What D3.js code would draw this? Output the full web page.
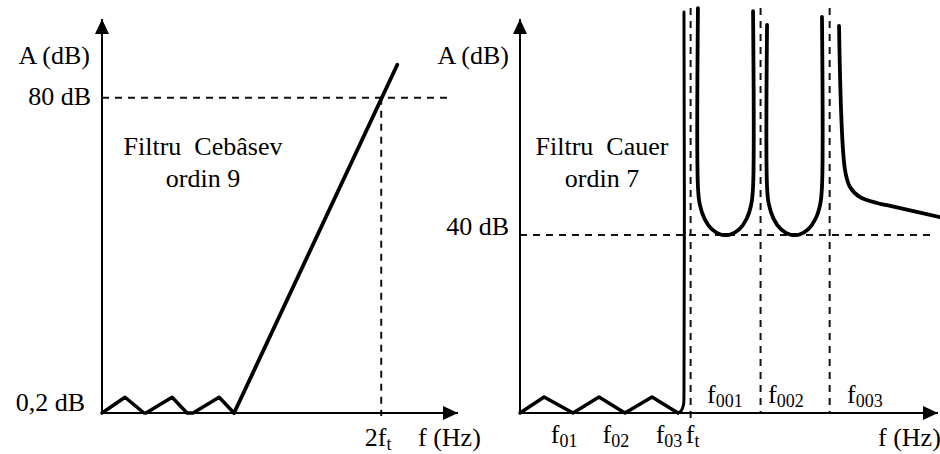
<!DOCTYPE html>
<html>
<head>
<meta charset="utf-8">
<script src="https://cdnjs.cloudflare.com/ajax/libs/d3/7.8.5/d3.min.js"></script>
<style>
body { margin: 0; background: #fff; }
svg text { font-family: "Liberation Serif", Tinos, "Times New Roman", "Nimbus Roman", "DejaVu Serif", serif; font-size: 26px; fill: #000; white-space: pre; }
</style>
</head>
<body>
<div id="chart"></div>
<script>
// values (schematic): x in multiples of f_t, y in dB
// left panel - Cebasev, order 9
var cebRipple = [[0, 0], [0.165, 4], [0.301, 0], [0.315, 0], [0.502, 4], [0.609, 0], [0.652, 0], [0.839, 4], [0.946, 0]]
var cebSlope = [[0.946, 0], [2.115, 88.4]]
var cebLevel = 80
var cebCross = 2

// right panel - Cauer, order 7
var cauerRipple = [[0, 0], [0.141, 3.6], [0.311, 0], [0.463, 3.6], [0.615, 0], [0.774, 3.6], [0.926, 0]]
var cauerRise = [[0.926, 0], [0.944, 0.45], [0.958, 1.8], [0.961, 3.4], [0.961, 90.1]]
var cauerLobe1 = [[1.043, 91], [1.043, 50.8], [1.053, 47.0], [1.081, 43.7], [1.124, 41.3], [1.176, 40.1], [1.205, 40],
    [1.233, 40.1], [1.286, 41.3], [1.329, 43.7], [1.356, 47.0], [1.366, 50.8], [1.366, 90.3]]
var cauerLobe2 = [[1.448, 87.2], [1.448, 50.8], [1.458, 47.0], [1.486, 43.7], [1.529, 41.3], [1.581, 40.1], [1.610, 40],
    [1.638, 40.1], [1.690, 41.3], [1.733, 43.7], [1.760, 47.0], [1.770, 50.8], [1.770, 89.0]]
var cauerTail = [[1.870, 87.0], [1.905, 54.6], [1.934, 50.8], [1.993, 48.5], [2.093, 47.2], [2.151, 46.7], [2.462, 44.0]]
var cauerLevel = 40
var cauerGuides = [1, 1.41, 1.815]
var zeroSubs = ["01", "02", "03"]
var zeroAt = [0.311, 0.615, 0.926]
var poleSubs = ["001", "002", "003"]
var poleLabelAt = [1.096, 1.454, 1.917]

var svg = d3.select("#chart").append("svg")
    .attr("width", 940)
    .attr("height", 454)

svg.append("defs").append("marker")
    .attr("id", "arrow")
    .attr("markerUnits", "userSpaceOnUse")
    .attr("viewBox", "0 -7 15 14")
    .attr("refX", 15).attr("refY", 0)
    .attr("markerWidth", 15).attr("markerHeight", 14)
    .attr("orient", "auto")
    .append("path")
    .attr("d", "M0,-7L15,0L0,7Z")
    .attr("fill", "#000")

var xL = d3.scaleLinear().domain([0, 2.55]).range([102, 458])
var yL = d3.scaleLinear().domain([0, 100]).range([413, 19])
var xR = d3.scaleLinear().domain([0, 2.45]).range([520, 938])
var yR = d3.scaleLinear().domain([0, 40]).range([413, 235])

function axes(x, y, top) {
    svg.append("line")
        .attr("x1", x.range()[0]).attr("y1", y(0))
        .attr("x2", x.range()[0]).attr("y2", top)
        .attr("stroke", "#000").attr("stroke-width", 2)
        .attr("marker-end", "url(#arrow)")
    svg.append("line")
        .attr("x1", x.range()[0]).attr("y1", y(0))
        .attr("x2", x.range()[1]).attr("y2", y(0))
        .attr("stroke", "#000").attr("stroke-width", 2)
        .attr("marker-end", "url(#arrow)")
}

function dashed(x1, y1, x2, y2) {
    svg.append("line")
        .attr("x1", x1).attr("y1", y1)
        .attr("x2", x2).attr("y2", y2)
        .attr("stroke", "#111").attr("stroke-width", 2)
        .attr("stroke-dasharray", "7,6")
}

function curve(pts, x, y, w, smooth) {
    var line = d3.line()
        .x(function (d) { return x(d[0]) })
        .y(function (d) { return y(d[1]) })
    if (smooth) line.curve(d3.curveCatmullRom.alpha(0.5))
    svg.append("path")
        .attr("d", line(pts))
        .attr("fill", "none")
        .attr("stroke", "#000")
        .attr("stroke-width", w)
        .attr("stroke-linejoin", "round")
        .attr("stroke-linecap", "round")
}

function label(x, y, anchor, main, sub) {
    var t = svg.append("text")
        .attr("x", x).attr("y", y)
        .attr("text-anchor", anchor)
    t.append("tspan").text(main)
    if (sub) t.append("tspan").attr("dy", 4).style("font-size", "18px").text(sub)
    return t
}

// ---- left panel ----
dashed(xL(0), yL(cebLevel), 453, yL(cebLevel))
dashed(xL(cebCross), yL(cebLevel), xL(cebCross), yL(0) + 3)
axes(xL, yL, 19)
curve(cebRipple, xL, yL, 3.5, false)
curve(cebSlope, xL, yL, 3.8, false)

label(90, 64, "end", "A (dB)")
label(91, yL(cebLevel) + 7, "end", "80 dB")
label(85, yL(0) - 2, "end", "0,2 dB")
label(203, 155, "middle", "Filtru  Cebâsev")
label(203, 187, "middle", "ordin 9")
label(xL(cebCross) - 3, 446, "middle", "2f", "t")
label(418, 446, "start", "f (Hz)")

// ---- right panel ----
dashed(xR(0), yR(cauerLevel), 930, yR(cauerLevel))
cauerGuides.forEach(function (g, i) {
    dashed(xR(g), yR(91), xR(g), i == 0 ? yR(-2) : yR(0))
})
axes(xR, yR, 19)
curve(cauerRipple, xR, yR, 3.5, false)
curve(cauerRise, xR, yR, 3, true)
curve(cauerLobe1, xR, yR, 3.8, true)
curve(cauerLobe2, xR, yR, 3.8, true)
curve(cauerTail, xR, yR, 3.8, true)

label(509, 64, "end", "A (dB)")
label(509, yR(cauerLevel), "end", "40 dB")
label(602, 155, "middle", "Filtru  Cauer")
label(602, 187, "middle", "ordin 7")
zeroAt.forEach(function (z, i) {
    label(xR(z) - 9, 443, "middle", "f", zeroSubs[i])
})
label(xR(cauerGuides[0]) + 2, 443, "middle", "f", "t")
poleLabelAt.forEach(function (p, i) {
    label(xR(p), 403, "start", "f", poleSubs[i])
})
label(878, 446, "start", "f (Hz)")
</script>
</body>
</html>
